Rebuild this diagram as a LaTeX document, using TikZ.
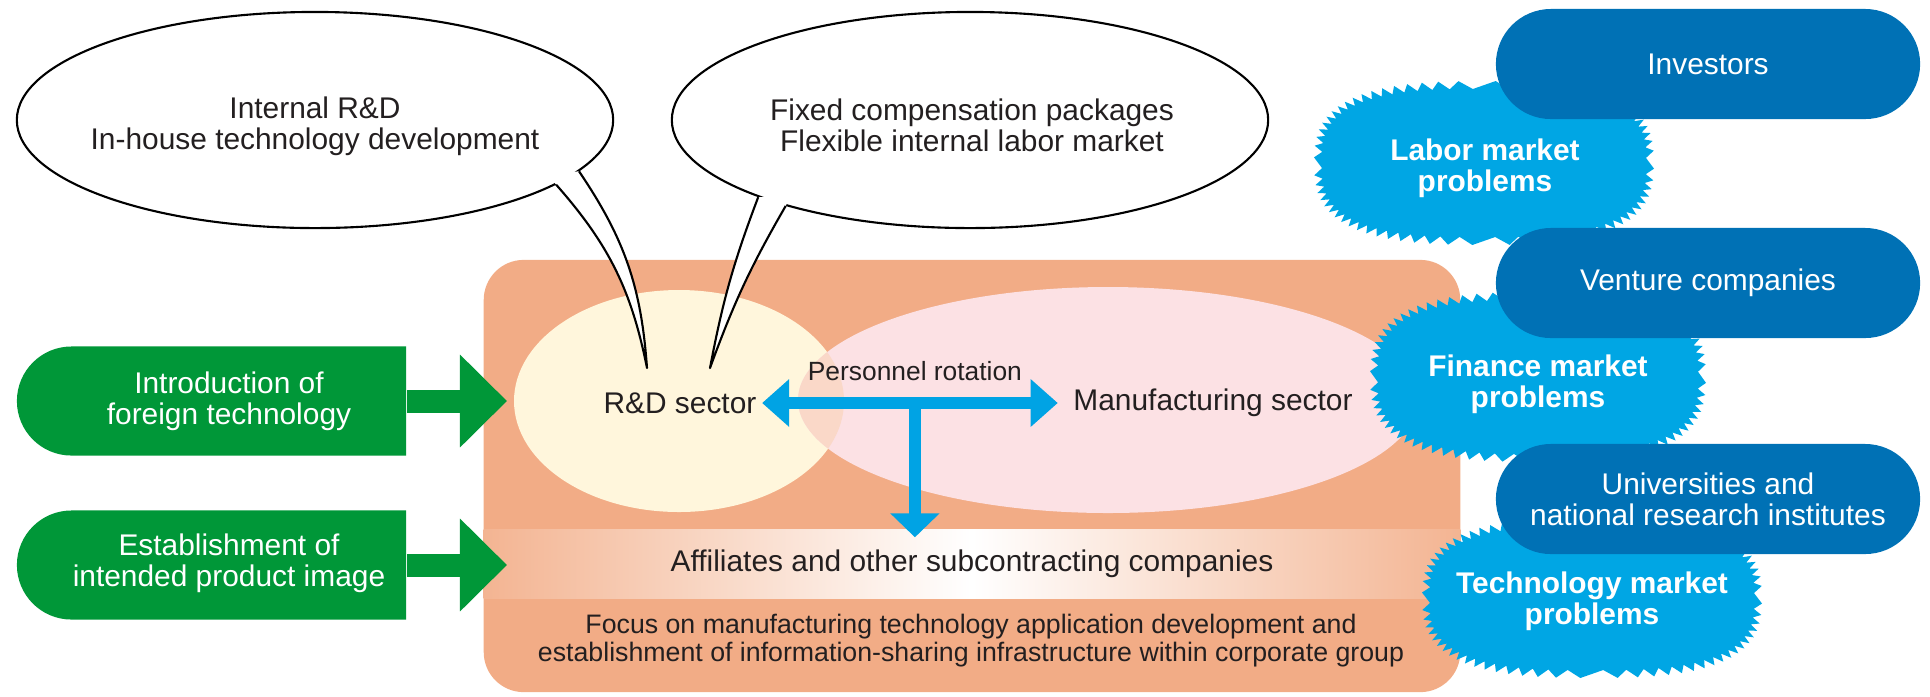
\documentclass[tikz,border=0pt]{standalone}
\usepackage{fontspec}
\setmainfont{Liberation Sans}
\usetikzlibrary{arrows.meta,shapes.geometric,shapes.misc,calc}
\definecolor{boxorange}{RGB}{242,172,134}
\definecolor{rdyellow}{RGB}{255,246,220}
\definecolor{mfgpink}{RGB}{252,225,228}
\definecolor{overlapc}{RGB}{250,216,200}
\definecolor{rotblue}{RGB}{0,163,228}
\definecolor{burstblue}{RGB}{0,166,228}
\definecolor{pillblue}{RGB}{0,113,181}
\definecolor{leafgreen}{RGB}{0,151,56}
\definecolor{inkgray}{RGB}{35,31,32}
% toothed blob: centre x, centre y, half width, half height
\newcommand{\burstat}[4]{%
  \fill[burstblue] plot[samples at={0,...,143}, variable=\k]
    ({#1+(#3-8*mod(\k,2))*sign(cos(2.5*\k+1.25))*abs(cos(2.5*\k+1.25))^0.7},
     {#2+(#4-8*mod(\k,2))*sign(sin(2.5*\k+1.25))*abs(sin(2.5*\k+1.25))^0.7}) -- cycle;}
\begin{document}
\begin{tikzpicture}[x=0.01cm, y=-0.01cm,
    txt/.style={text=inkgray, font=\fontsize{8.5}{8.9}\selectfont, align=center, inner sep=0.05cm},
    wtxt/.style={txt, text=white},
    burstlabel/.style={wtxt, font=\fontsize{8.5}{8.9}\selectfont\bfseries},
    bubble/.style={ellipse, draw=black, line width=0.6pt, fill=white, minimum width=5.96cm, minimum height=2.16cm, inner sep=0pt},
    tail/.style={draw=black, line width=0.6pt, line join=round},
    pill/.style={rounded rectangle, fill=pillblue, minimum width=4.34cm, minimum height=1.1cm, wtxt},
    leaf/.style={rounded rectangle, rounded rectangle right arc=none, fill=leafgreen, minimum width=3.89cm, minimum height=1.09cm, inner sep=0pt},
    leafarrow/.style={draw=leafgreen, line width=0.23cm, -{Triangle[length=0.47cm,width=0.9cm]}},
    rotarrow/.style={draw=rotblue, line width=0.12cm}]
\useasboundingbox (0,0) rectangle (1930,696);

% corporate group box
\node[fill=boxorange, rounded corners=0.4cm, minimum width=9.76cm, minimum height=4.32cm, inner sep=0pt] (group) at (972,476) {};
\node[txt, minimum width=9.76cm, minimum height=0.68cm, left color=boxorange!90!white, right color=boxorange!90!white, middle color=white] (aff) at (972,564) {Affiliates and other subcontracting companies};
\node[txt, font=\fontsize{7.6}{8}\selectfont] (focus) at (971,641) {Focus on manufacturing technology application development and\\establishment of information-sharing infrastructure within corporate group};

% sectors
\fill[rdyellow] (679,401) ellipse (165 and 111);
\fill[mfgpink] (1108,400) ellipse (310 and 113);
\begin{scope}
  \clip (679,401) ellipse (165 and 111);
  \fill[overlapc] (1108,400) ellipse (310 and 113);
\end{scope}

% speech bubbles
\node[bubble] (rdbub) at (315,120) {};
\node[bubble] (mfgbub) at (970,120) {};
\coordinate (rdtip) at (647,368);
\coordinate (mfgtip) at (710,368);
\fill[white] (rdbub.-15) to[bend left=15] (rdtip) to[bend right=15] (rdbub.-11) -- ($(rdbub.-13)!0.08!(rdbub.center)$) -- cycle;
\draw[tail] (rdbub.-15) to[bend left=15] (rdtip) to[bend right=15] (rdbub.-11);
\fill[white] (mfgbub.-160) to[bend right=5] (mfgtip) to[bend left=5] (mfgbub.-155) -- ($(mfgbub.-157)!0.08!(mfgbub.center)$) -- cycle;
\draw[tail] (mfgbub.-160) to[bend right=5] (mfgtip) to[bend left=5] (mfgbub.-155);
\node[txt] (rdbubtext) at (315,126) {Internal R\&D\\In-house technology development};
\node[txt] (mfgbubtext) at (972,125) {Fixed compensation packages\\Flexible internal labor market};

\node[txt] (rd) at (680,403) {R\&D sector};
\node[txt] (mfg) at (1213,403) {Manufacturing sector};
\draw[rotarrow, {Triangle[length=0.27cm,width=0.46cm]}-{Triangle[length=0.27cm,width=0.46cm]}, shorten >=0.1cm]
  (rd.east) -- (rd.east -| mfg.west)
  node[midway, above=0.16cm, txt, inner sep=0pt, font=\fontsize{7.5}{8}\selectfont] (rotlabel) {Personnel rotation}
  coordinate[midway] (rotmid);
\draw[rotarrow, -{Triangle[length=0.24cm,width=0.48cm]}, shorten >=-0.08cm] (rotmid) -- (rotmid |- aff.north);

% outside inputs
\node[leaf] (intro) at (211.5,401) {};
\node[wtxt] (introtext) at (229,401) {Introduction of\\foreign technology};
\coordinate (introtip) at (507,401);
\draw[leafarrow] (intro.east) -- (introtip);
\node[leaf] (estab) at (211.5,565) {};
\node[wtxt] (estabtext) at (229,563) {Establishment of\\intended product image};
\coordinate (estabtip) at (507,565);
\draw[leafarrow] (estab.east) -- (estabtip);

% market problems
\burstat{1484}{163}{170}{82}
\node[burstlabel] (labor) at (1485,168) {Labor market\\problems};
\burstat{1538}{377}{168}{85}
\node[burstlabel] (finance) at (1538,384) {Finance market\\problems};
\burstat{1592}{598}{170}{80}
\node[burstlabel] (techmkt) at (1592,601) {Technology market\\problems};

% outside actors
\node[pill] (investors) at (1708,64) {Investors};
\node[pill] (venture) at (1708,283) {Venture companies};
\node[pill] (univ) at (1708,499) {Universities and\\national research institutes};
\end{tikzpicture}
\end{document}
